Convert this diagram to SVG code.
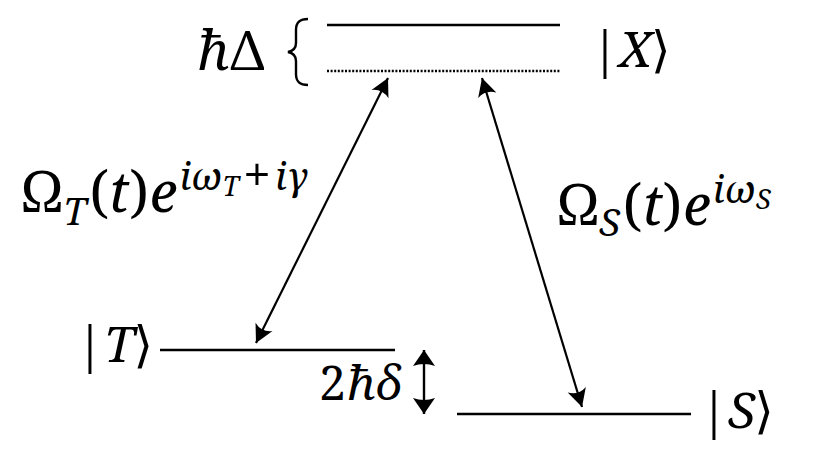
<svg xmlns="http://www.w3.org/2000/svg" width="830" height="467" viewBox="0 0 830 467">
<defs>
<style>
text{font-family:"Noto Serif","DejaVu Serif",serif;fill:#000}
.it{font-style:italic}
.lvl{stroke:#000;stroke-width:2.7;fill:none}
.arr{stroke:#000;stroke-width:2.2;fill:none;marker-start:url(#head);marker-end:url(#head)}
.st{font-size:50px}
.om{font-size:56px}
.sub{font-size:38px;font-style:italic}
.sup{font-size:39px}
.ss{font-size:27px;font-style:italic}
</style>
<marker id="head" viewBox="-20 -11 22 22" refX="0" refY="0" markerWidth="22" markerHeight="22" markerUnits="userSpaceOnUse" orient="auto-start-reverse">
<path d="M0,0 L-18,-9.5 Q-12,0 -18,9.5 Z" fill="#000"/>
</marker>
<marker id="head2" viewBox="-18 -12 20 24" refX="0" refY="0" markerWidth="20" markerHeight="24" markerUnits="userSpaceOnUse" orient="auto-start-reverse">
<path d="M0,0 L-16,-11 Q-12,0 -16,11 Z" fill="#000"/>
</marker>
</defs>
<rect width="830" height="467" fill="#fff"/>
<g id="level-X">
<line class="lvl" x1="327" y1="25" x2="560" y2="25"/>
<text class="st" x="591" y="67">|<tspan class="it" dx="0">X</tspan><tspan dx="-1">⟩</tspan></text>
</g>
<g id="virtual-level">
<line x1="327" y1="71" x2="560" y2="71" stroke="#000" stroke-width="2.5" stroke-dasharray="2,1.6"/>
<text x="197" y="70" font-size="54"><tspan class="it">ħ</tspan><tspan dx="1">Δ</tspan></text>
<path d="M308,19 C300,19 296,22 296,30 L296,43 C296,48 293,51 288,52 C293,53 296,56 296,61 L296,74 C296,82 300,85 308,85" fill="none" stroke="#000" stroke-width="2.4"/>
</g>
<g id="level-T">
<line class="lvl" x1="160" y1="350" x2="395" y2="350"/>
<text class="st" x="76" y="362">|<tspan class="it" dx="0">T</tspan><tspan dx="-1">⟩</tspan></text>
</g>
<g id="level-S">
<line class="lvl" x1="457" y1="414" x2="691" y2="414"/>
<text class="st" x="700" y="428">|<tspan class="it" dx="0">S</tspan><tspan dx="-1">⟩</tspan></text>
</g>
<g id="splitting">
<text x="319" y="400" font-size="48">2<tspan class="it" dx="1">ħδ</tspan></text>
</g>
<g id="labels">
<text class="om" x="21" y="212">Ω<tspan class="sub" dy="13">T</tspan><tspan dy="-13" dx="3">(</tspan><tspan class="it">t</tspan>)<tspan class="it" dx="1">e</tspan><tspan class="sup it" dy="-22" dx="2">iω</tspan><tspan class="ss" dy="6">T</tspan><tspan font-size="50" dy="-4" dx="4">+</tspan><tspan class="sup it" dy="-2" dx="4">iγ</tspan></text>
<text class="om" x="557" y="225">Ω<tspan class="sub" dy="11">S</tspan><tspan dy="-11" dx="3">(</tspan><tspan class="it">t</tspan>)<tspan class="it" dx="1">e</tspan><tspan class="sup it" dy="-22" dx="2">iω</tspan><tspan class="ss" dy="6">S</tspan></text>
</g>
<g id="connectors">
<line class="arr" x1="388" y1="78" x2="256" y2="343"/>
<line class="arr" x1="482" y1="78" x2="582" y2="407"/>
<line x1="424" y1="350" x2="424" y2="414" stroke="#000" stroke-width="2.4" marker-start="url(#head2)" marker-end="url(#head2)"/>
</g>
</svg>
